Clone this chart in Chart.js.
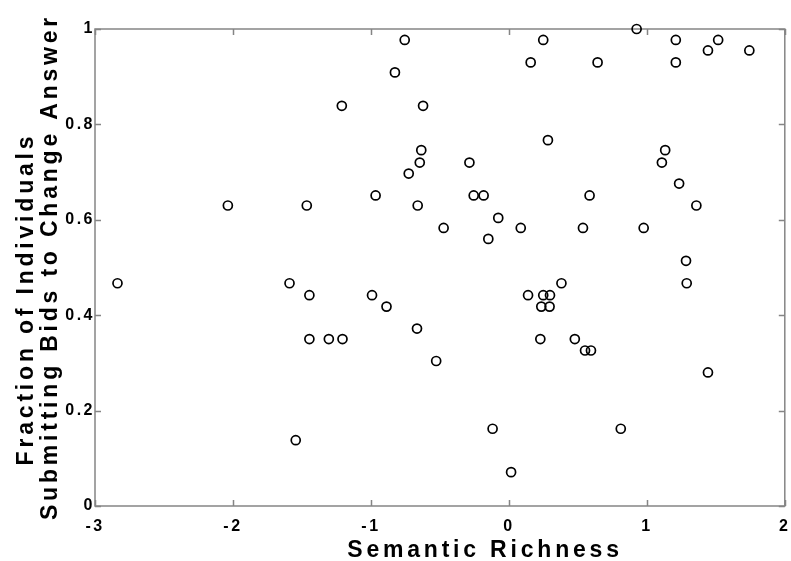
<!DOCTYPE html>
<html>
<head>
<meta charset="utf-8">
<script src="https://cdn.jsdelivr.net/npm/chart.js@4.4.1/dist/chart.umd.min.js"></script>
<style>
  html, body { margin: 0; padding: 0; background: #ffffff; }
  #wrap { width: 791px; height: 561px; position: relative; }
</style>
</head>
<body>
<div id="wrap"><canvas id="richnessChart"></canvas></div>
<script>
// DATA
const richness = [
    -0.755, -0.826, -1.211, -0.622, -0.635, -0.646, -0.726, -0.966, -2.037, -1.465,
    -0.661, 0.926, 0.249, 1.210, 1.517, 1.443, 1.743, 0.158, 0.643, 1.210,
    0.283, 1.133, 1.109, -0.286, 1.234, -0.255, -0.183, 0.585, 1.359, -0.077,
    -0.473, 0.086, 0.537, 0.977, -0.149, 1.284, -2.837, -1.590, -1.446, -0.992,
    -0.887, -0.666, -1.446, -1.305, -1.206, -0.527, -1.545, 1.289, 0.381, 0.139,
    0.249, 0.298, 0.235, 0.295, 0.228, 0.478, 0.552, 0.595, 1.443, -0.118,
    0.811, 0.016
];
const fractionBids = [
    0.977, 0.909, 0.839, 0.839, 0.746, 0.720, 0.697, 0.651, 0.630, 0.630,
    0.630, 1.000, 0.977, 0.977, 0.977, 0.955, 0.955, 0.930, 0.930, 0.930,
    0.767, 0.746, 0.720, 0.720, 0.676, 0.651, 0.651, 0.651, 0.630, 0.604,
    0.583, 0.583, 0.583, 0.583, 0.560, 0.514, 0.467, 0.467, 0.442, 0.442,
    0.418, 0.372, 0.350, 0.350, 0.350, 0.304, 0.138, 0.467, 0.467, 0.442,
    0.442, 0.442, 0.418, 0.418, 0.350, 0.350, 0.326, 0.326, 0.280, 0.162,
    0.162, 0.071
];
const xTicks = [-3, -2, -1, 0, 1, 2];
const yTicks = [0, 0.2, 0.4, 0.6, 0.8, 1];
const xTitle = 'Semantic Richness';
const yTitleLines = ['Fraction of Individuals', 'Submitting Bids to Change Answer'];

const FONT = '"Liberation Sans", Arial, sans-serif';
const AXIS_COLOR = '#858585';

const points = richness.map((x, i) => ({ x: x, y: fractionBids[i] }));

// box around the axes, inward ticks on all four sides, axis titles
const matlabFrame = {
    id: 'matlabFrame',
    beforeDraw(chart) {
        chart.ctx.letterSpacing = '2.5px';
    },
    beforeDatasetsDraw(chart) {
        const { ctx, chartArea: a, scales: { x, y } } = chart;
        ctx.save();
        ctx.strokeStyle = AXIS_COLOR;
        ctx.lineWidth = 1.5;
        ctx.strokeRect(a.left, a.top, a.right - a.left, a.bottom - a.top);
        ctx.beginPath();
        x.ticks.forEach(t => {
            const px = Math.round(x.getPixelForValue(t.value)) + 0.5;
            ctx.moveTo(px, a.bottom); ctx.lineTo(px, a.bottom - 6);
            ctx.moveTo(px, a.top); ctx.lineTo(px, a.top + 6);
        });
        y.ticks.forEach(t => {
            const py = Math.round(y.getPixelForValue(t.value)) + 0.5;
            ctx.moveTo(a.left, py); ctx.lineTo(a.left + 6, py);
            ctx.moveTo(a.right, py); ctx.lineTo(a.right - 6, py);
        });
        ctx.stroke();
        ctx.restore();
    },
    afterDraw(chart) {
        const ctx = chart.ctx;
        ctx.save();
        ctx.fillStyle = '#000000';
        ctx.font = 'bold 23px ' + FONT;
        ctx.letterSpacing = '3.8px';
        ctx.textAlign = 'center';
        ctx.textBaseline = 'alphabetic';
        ctx.fillText(xTitle, 485, 557);

        ctx.save();
        ctx.translate(33, 299);
        ctx.rotate(-Math.PI / 2);
        ctx.fillText(yTitleLines[0], 0, 0);
        ctx.restore();

        ctx.save();
        ctx.translate(57, 267);
        ctx.rotate(-Math.PI / 2);
        ctx.fillText(yTitleLines[1], 0, 0);
        ctx.restore();
        ctx.restore();
    }
};

const ctx = document.getElementById('richnessChart');

new Chart(ctx, {
    type: 'scatter',

    data: {
        datasets: [
            {
                label: 'Fraction of individuals',
                data: points,
                pointStyle: 'circle',
                pointRadius: 4.5,
                pointHoverRadius: 4.5,
                pointBorderWidth: 1.7,
                pointBorderColor: '#000000',
                pointBackgroundColor: 'rgba(0,0,0,0)',
                clip: false
            }
        ]
    },

    options: {
        responsive: true,
        maintainAspectRatio: false,
        devicePixelRatio: 1,
        animation: false,
        events: [],

        layout: {
            padding: { top: 29, right: 2, bottom: 0, left: 0 }
        },

        plugins: {
            legend: { display: false },
            title: { display: false },
            tooltip: { enabled: false }
        },

        scales: {
            x: {
                type: 'linear',
                min: -3,
                max: 2,
                afterBuildTicks: scale => {
                    scale.ticks = xTicks.map(v => ({ value: v }));
                },
                afterFit: scale => {
                    scale.height = 55;
                    scale.paddingLeft = 0;
                    scale.paddingRight = 0;
                },
                grid: { display: false, drawTicks: false },
                border: { display: false },
                ticks: {
                    autoSkip: false,
                    maxRotation: 0,
                    padding: 11,
                    color: '#000000',
                    font: { family: FONT, size: 16, weight: 'bold' },
                    callback: v => String(v)
                }
            },

            y: {
                type: 'linear',
                min: 0,
                max: 1,
                afterBuildTicks: scale => {
                    scale.ticks = yTicks.map(v => ({ value: v }));
                },
                afterFit: scale => {
                    scale.width = 95;
                    scale.paddingTop = 0;
                    scale.paddingBottom = 0;
                },
                grid: { display: false, drawTicks: false },
                border: { display: false },
                ticks: {
                    autoSkip: false,
                    padding: 0,
                    color: '#000000',
                    font: { family: FONT, size: 16, weight: 'bold' },
                    callback: v => String(v)
                }
            }
        }
    },

    plugins: [matlabFrame]
});
</script>
</body>
</html>
